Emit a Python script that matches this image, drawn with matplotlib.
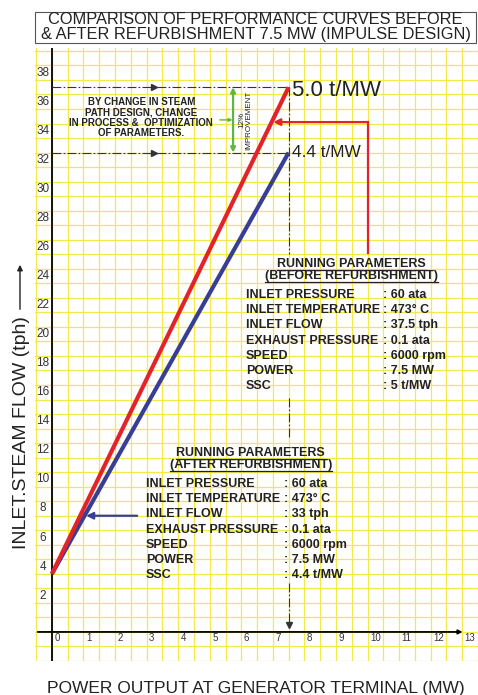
import matplotlib
matplotlib.use("Agg")
import matplotlib.pyplot as plt
from matplotlib.patches import Rectangle
import numpy as np

plt.rcParams['font.family'] = ['Liberation Sans', 'DejaVu Sans']

# data
power_mw = [0, 7.5]
flow_before = [4, 37.5]      # 5.0 t/MW (before refurbishment)
flow_after = [4, 33]         # 4.4 t/MW (after refurbishment)

x_ticks = list(range(0, 14))
y_ticks = list(range(2, 39, 2))

param_labels = ['INLET PRESSURE', 'INLET TEMPERATURE', 'INLET FLOW',
                'EXHAUST PRESSURE', 'SPEED', 'POWER', 'SSC']
before_values = ['60 ata', '473° C', '37.5 tph', '0.1 ata', '6000 rpm', '7.5 MW', '5 t/MW']
after_values = ['60 ata', '473° C', '33 tph', '0.1 ata', '6000 rpm', '7.5 MW', '4.4 t/MW']

RED = '#e3232a'
BLUE = '#383e93'
GREEN = '#5fb548'
YEL = '#f4e84a'
TXT = '#222222'

fig = plt.figure(figsize=(4.78, 6.95), dpi=100)
ax = fig.add_axes([35 / 478, 34 / 695, 443 / 478, 613 / 695])
ax.set_xlim(-0.536, 13.44)
ax.set_ylim(-1.92, 40.2)

# yellow graph paper
ax.set_xticks(np.arange(-0.5, 13.6, 0.5))
ax.set_yticks(np.arange(-2, 41, 1))
ax.grid(True, color=YEL, lw=0.9)
ax.tick_params(length=0, labelbottom=False, labelleft=False)
for s in ax.spines.values():
    s.set_visible(False)
ax.set_axisbelow(True)

# axes lines
ax.axvline(0, color='black', lw=1.3, zorder=3)
ax.annotate('', xy=(13.1, 0), xytext=(-0.54, 0),
            arrowprops=dict(arrowstyle='-|>', color='black', lw=1.3, mutation_scale=6),
            zorder=3)

# tick labels
for v in x_ticks:
    ax.text(v + 0.08, -0.45, str(v), ha='left', va='center', fontsize=7, color='#333333')
for v in y_ticks:
    ax.text(-0.285, v + 0.5, str(v), ha='center', va='center', fontsize=8.5, color='#333333')

# performance curves
ax.plot(power_mw, flow_after, color=BLUE, lw=3, solid_capstyle='butt', zorder=4)
ax.plot(power_mw, flow_before, color=RED, lw=3, solid_capstyle='butt', zorder=5)

ax.text(7.6, 37.3, '5.0 t/MW', ha='left', va='center', fontsize=16, color=TXT)
ax.text(7.6, 33.0, '4.4 t/MW', ha='left', va='center', fontsize=12.4, color=TXT)

# dash-dot guide lines
dd = dict(color='#333333', lw=0.8, dashes=(8, 2, 1.5, 2), zorder=3)
for yv in [flow_before[-1], flow_after[-1]]:
    ax.plot([0, power_mw[-1]], [yv, yv], **dd)
    ax.plot([3.25], [yv], marker='>', ms=4, color='#333333', zorder=3)
xv = power_mw[-1]
ax.plot([xv, xv], [flow_before[-1], 26.0], **dd)
ax.plot([xv, xv], [16.1, 13.3], **dd)
ax.plot([xv, xv], [3.4, 0.5], **dd)
ax.plot([xv], [0.45], marker='v', ms=4, color='#333333', zorder=3)

# improvement arrow
ax.annotate('', xy=(5.74, flow_before[-1]), xytext=(5.74, flow_after[-1]),
            arrowprops=dict(arrowstyle='<|-|>', color=GREEN, lw=1.6, mutation_scale=7,
                            shrinkA=0, shrinkB=0), zorder=4)
ymid = (flow_before[-1] + flow_after[-1]) / 2
ax.annotate('', xy=(5.72, ymid), xytext=(5.32, ymid),
            arrowprops=dict(arrowstyle='-|>', color=GREEN, lw=1.0, mutation_scale=5,
                            shrinkA=0, shrinkB=0), zorder=4)
ax.text(6.14, ymid, '12%\nIMPROVEMENT', rotation=90, ha='center', va='center',
        fontsize=5.8, color=TXT, linespacing=1.0)

ax.text(2.83, 35.4, 'BY CHANGE IN STEAM\nPATH DESIGN, CHANGE\nIN PROCESS &  OPTIMIZATION\nOF PARAMETERS.',
        ha='center', va='center', fontsize=7, fontweight='bold', color=TXT, linespacing=1.05)

# pointer arrows
ax.plot([10, 10], [26.1, 35.1], color=RED, lw=1.6, zorder=4)
tip_red = (35.1 - flow_before[0]) / ((flow_before[1] - flow_before[0]) / power_mw[1])
ax.annotate('', xy=(tip_red + 0.05, 35.1), xytext=(10, 35.1),
            arrowprops=dict(arrowstyle='-|>', color=RED, lw=1.6, mutation_scale=10,
                            shrinkA=0, shrinkB=0), zorder=4)
tip_blue = (8 - flow_after[0]) / ((flow_after[1] - flow_after[0]) / power_mw[1])
ax.annotate('', xy=(tip_blue + 0.05, 8), xytext=(2.7, 8),
            arrowprops=dict(arrowstyle='-|>', color=BLUE, lw=1.6, mutation_scale=10,
                            shrinkA=0, shrinkB=0), zorder=4)

# running parameter blocks
headers = []


def param_block(xc, y_head, x_lab, x_val, y_row, values, tag):
    h1 = ax.text(xc, y_head, 'RUNNING PARAMETERS', ha='center', va='center',
                 fontsize=9, fontweight='bold', color=TXT)
    h2 = ax.text(xc, y_head - 0.82, '(' + tag + ' REFURBISHMENT)', ha='center', va='center',
                 fontsize=9, fontweight='bold', color=TXT)
    headers.extend([h1, h2])
    for i, (lab, val) in enumerate(zip(param_labels, values)):
        yy = y_row - i * 1.04
        ax.text(x_lab, yy, lab, ha='left', va='center', fontsize=9,
                fontweight='bold', color=TXT)
        ax.text(x_val, yy, ': ' + val, ha='left', va='center', fontsize=9,
                fontweight='bold', color=TXT)


param_block(9.5, 25.3, 6.15, 10.5, 23.18, before_values, 'BEFORE')
param_block(6.3, 12.3, 2.97, 7.35, 10.17, after_values, 'AFTER')

# underline headers
fig.canvas.draw()
r = fig.canvas.get_renderer()
inv = ax.transData.inverted()
for h in headers:
    bb = h.get_window_extent(r)
    (x0, y0), (x1, _) = inv.transform([(bb.x0, bb.y0), (bb.x1, bb.y1)])
    ax.plot([x0, x1], [y0 + 0.02, y0 + 0.02], color=TXT, lw=0.9, zorder=4)

# title box and axis titles
fig.add_artist(Rectangle((35 / 478, 1 - 43 / 695), 441 / 478, 31.3 / 695,
                         transform=fig.transFigure, fill=False, edgecolor='#555555', lw=0.8))
fig.text(0.534, 1 - 24.5 / 695, 'COMPARISON OF PERFORMANCE CURVES BEFORE',
         ha='center', va='baseline', fontsize=11.8, color=TXT)
fig.text(0.536, 1 - 38.5 / 695, '& AFTER REFURBISHMENT 7.5 MW (IMPULSE DESIGN)',
         ha='center', va='baseline', fontsize=11.8, color=TXT)
fig.text(0.5356, 1 - 693 / 695, 'POWER OUTPUT AT GENERATOR TERMINAL (MW)',
         ha='center', va='baseline', fontsize=12.5, color=TXT)
fig.text(0.046, 0.378, 'INLET.STEAM FLOW (tph)', rotation=90, ha='center', va='center',
         fontsize=14, color=TXT)
ax.annotate('', xy=(0.0418, 0.623), xytext=(0.0418, 0.551), xycoords='figure fraction',
            textcoords='figure fraction', annotation_clip=False,
            arrowprops=dict(arrowstyle='-|>', color=TXT, lw=1.0, mutation_scale=8))

fig.savefig('out.png', dpi=100)
